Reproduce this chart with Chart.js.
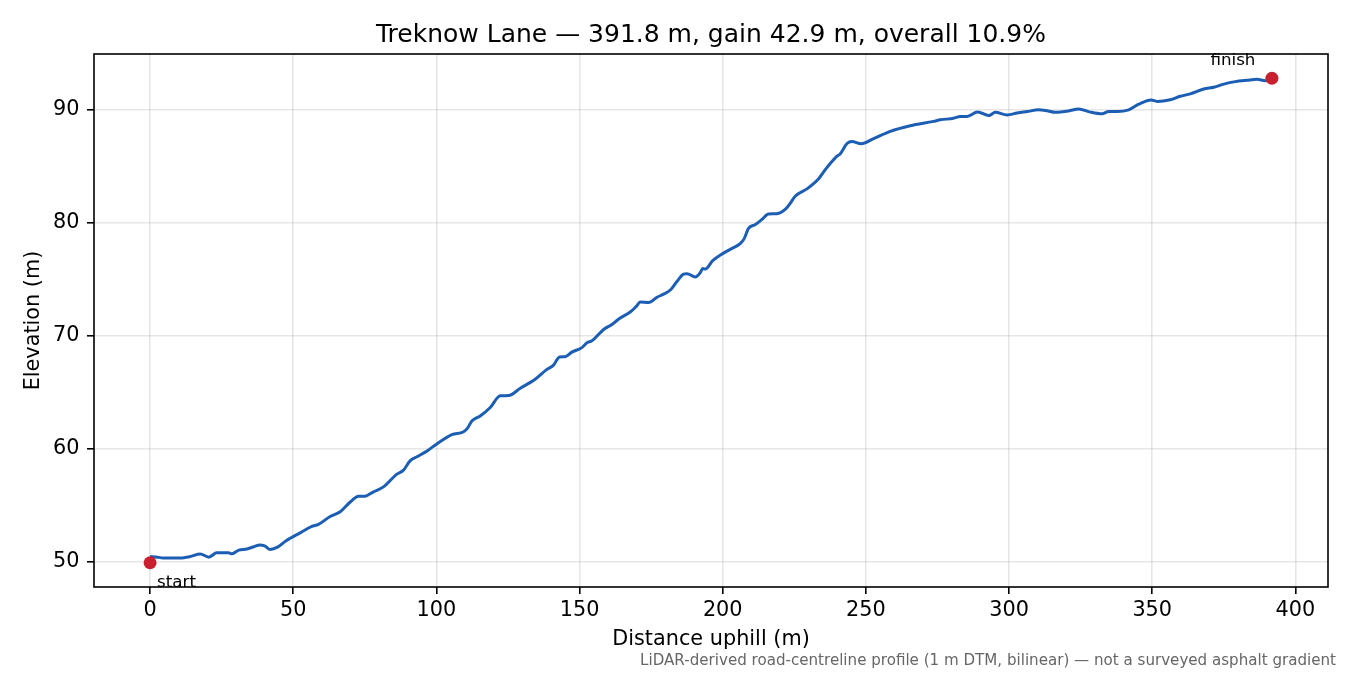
<!DOCTYPE html>
<html>
<head>
<meta charset="utf-8">
<title>Treknow Lane profile</title>
<script src="https://cdn.jsdelivr.net/npm/chart.js@4.4.1/dist/chart.umd.min.js"></script>
<style>
  html, body { margin: 0; padding: 0; background: #fff; }
  #wrap { width: 1350px; height: 675px; }
</style>
</head>
<body>
<div id="wrap"><canvas id="profile" width="1350" height="675"></canvas></div>
<script>
// distance along the lane (m) and elevation (m)
var distM = [0, 2, 4.5, 10.5, 14, 17.5, 20.5, 23.3, 27.4, 28.6, 31, 33.8, 36, 38.4, 40, 42, 44.5, 47.5,
  52.4, 56.5, 58.8, 62.9, 66.4, 69.9, 72.8, 75.1, 78, 81.5, 86.2, 88.5, 90.8, 93.2, 97, 100,
  105.4, 109.5, 110.8, 112.4, 115.3, 118.8, 122.3, 125.2, 129.3, 134.5, 138.6, 140.9, 143, 145,
  147.3, 150.8, 152.6, 154.3, 158.4, 161.3, 164.2, 167.7, 169.8, 171.2, 174.1, 177, 179.3, 181.7,
  184, 186.3, 187.5, 190.4, 192.2, 193, 193.9, 196.5, 199.5, 202.6, 206.1, 207.5, 209, 211.4,
  213.7, 216, 218.9, 222.1, 223.5, 225.3, 229.4, 233.5, 235.8, 239.9, 241, 243.4, 245.1, 248.3,
  252.7, 258.5, 265.5, 273.6, 276, 280.6, 283, 285.3, 289, 292.9, 295.2, 299.3, 302.8, 306.3,
  310.3, 313.2, 316.2, 320.8, 324.3, 328.4, 332.5, 334.8, 337.7, 341.8, 345.3, 349.6, 351.7,
  356.3, 359.8, 363.3, 368, 371.5, 375, 379, 383.1, 386.6, 389.5, 391.8]
var elevM = [50.45, 50.42, 50.33, 50.33, 50.45, 50.68, 50.4, 50.78, 50.78, 50.7, 51.02, 51.12, 51.3, 51.48, 51.4, 51.08, 51.28, 51.85,
  52.55, 53.12, 53.3, 54.0, 54.42, 55.28, 55.78, 55.8, 56.18, 56.62, 57.75, 58.1, 58.92, 59.28, 59.85, 60.4,
  61.25, 61.5, 61.8, 62.45, 62.9, 63.65, 64.68, 64.7, 65.35, 66.15, 67.02, 67.4, 68.12, 68.15,
  68.55, 68.95, 69.38, 69.55, 70.55, 71.0, 71.58, 72.1, 72.6, 72.98, 72.95, 73.4, 73.68, 74.05,
  74.8, 75.45, 75.5, 75.2, 75.6, 75.95, 75.9, 76.65, 77.2, 77.65, 78.15, 78.6, 79.5, 79.85,
  80.3, 80.78, 80.8, 81.25, 81.7, 82.35, 83.0, 83.9, 84.7, 85.9, 86.1, 87.02, 87.2, 87.0,
  87.45, 88.1, 88.6, 88.98, 89.12, 89.25, 89.42, 89.42, 89.82, 89.5, 89.78, 89.55, 89.72, 89.85,
  90.0, 89.92, 89.78, 89.9, 90.08, 89.8, 89.65, 89.85, 89.85, 90.0, 90.5, 90.88, 90.75,
  90.9, 91.2, 91.42, 91.85, 92.0, 92.28, 92.5, 92.62, 92.7, 92.58, 92.65]

// start / finish markers
var endNames = ['start', 'finish']
var endDist = [0, 391.8]
var endElev = [49.9, 92.8]

var xTicks = [0, 50, 100, 150, 200, 250, 300, 350, 400]
var yTicks = [50, 60, 70, 80, 90]

var titleText = 'Treknow Lane \u2014 391.8 m, gain 42.9 m, overall 10.9%'
var noteText = 'LiDAR-derived road-centreline profile (1 m DTM, bilinear) \u2014 not a surveyed asphalt gradient'

var FONT = '"DejaVu Sans", "Noto Sans", sans-serif'

var linePoints = distM.map((d, i) => ({x: d, y: elevM[i]}))
var endPoints = endDist.map((d, i) => ({x: d, y: endElev[i]}))

var extras = {
    id: 'extras',
    afterDraw: function (chart) {
        var ctx = chart.ctx
        var a = chart.chartArea
        var sx = chart.scales.x
        var sy = chart.scales.y
        ctx.save()
        ctx.strokeStyle = '#000'
        ctx.lineWidth = 1.6
        ctx.strokeRect(a.left, a.top, a.right - a.left, a.bottom - a.top)

        ctx.fillStyle = '#000'
        ctx.textBaseline = 'alphabetic'
        ctx.font = '25px ' + FONT
        ctx.textAlign = 'center'
        ctx.fillText(titleText, (a.left + a.right) / 2, 42)

        // marker labels
        ctx.font = '16.7px ' + FONT
        var px0 = sx.getPixelForValue(endDist[0]), py0 = sy.getPixelForValue(endElev[0])
        ctx.textAlign = 'left'
        ctx.fillText(endNames[0], px0 + 7, py0 + 24)
        var px1 = sx.getPixelForValue(endDist[1]), py1 = sy.getPixelForValue(endElev[1])
        ctx.textAlign = 'center'
        ctx.fillText(endNames[1], px1 - 39, py1 - 13)

        ctx.font = '15.1px ' + FONT
        ctx.fillStyle = '#666'
        ctx.textAlign = 'right'
        ctx.fillText(noteText, 1336, 665)
        ctx.restore()
    }
}

function setTicks(list) {
    return function (scale) {
        scale.ticks = list.map(v => ({value: v}))
    }
}

new Chart(document.getElementById('profile'), {
    type: 'line',
    data: {
        datasets: [{
            label: 'ends',
            data: endPoints,
            showLine: false,
            pointRadius: 6.5,
            pointBackgroundColor: '#c8202f',
            pointBorderColor: '#c8202f',
            pointBorderWidth: 0,
            order: 0
        }, {
            label: 'elevation',
            data: linePoints,
            borderColor: '#1b5eb4',
            borderWidth: 3,
            pointRadius: 0,
            fill: false,
            cubicInterpolationMode: 'monotone',
            order: 1
        }]
    },
    options: {
        responsive: false,
        animation: false,
        devicePixelRatio: 1,
        layout: { padding: { left: 0, top: 54, right: 22, bottom: 0 } },
        plugins: {
            legend: { display: false },
            tooltip: { enabled: false },
            title: { display: false }
        },
        scales: {
            x: {
                type: 'linear',
                min: -19.59,
                max: 411.39,
                afterFit: function (scale) { scale.height = 88 },
                afterBuildTicks: setTicks(xTicks),
                border: { display: false },
                grid: {
                    color: 'rgba(176,176,176,0.32)',
                    lineWidth: 1.6,
                    tickColor: '#000',
                    tickWidth: 1.6,
                    tickLength: 7
                },
                ticks: {
                    padding: 4.5,
                    color: '#000',
                    maxRotation: 0,
                    font: { family: FONT, size: 20.8, lineHeight: 1.2 }
                },
                title: {
                    display: true,
                    text: 'Distance uphill (m)',
                    color: '#000',
                    font: { family: FONT, size: 20.8, lineHeight: 1.2 },
                    padding: { top: 0, bottom: 23 }
                }
            },
            y: {
                type: 'linear',
                min: 47.755,
                max: 94.945,
                afterFit: function (scale) { scale.width = 94 },
                afterBuildTicks: setTicks(yTicks),
                border: { display: false },
                grid: {
                    color: 'rgba(176,176,176,0.32)',
                    lineWidth: 1.6,
                    tickColor: '#000',
                    tickWidth: 1.6,
                    tickLength: 7
                },
                ticks: {
                    padding: 7.5,
                    color: '#000',
                    font: { family: FONT, size: 20.8, lineHeight: 1.2 }
                },
                title: {
                    display: true,
                    text: 'Elevation (m)',
                    color: '#000',
                    font: { family: FONT, size: 20.8, lineHeight: 1.2 },
                    padding: { top: 21, bottom: 0 }
                }
            }
        }
    },
    plugins: [extras]
})
</script>
</body>
</html>
